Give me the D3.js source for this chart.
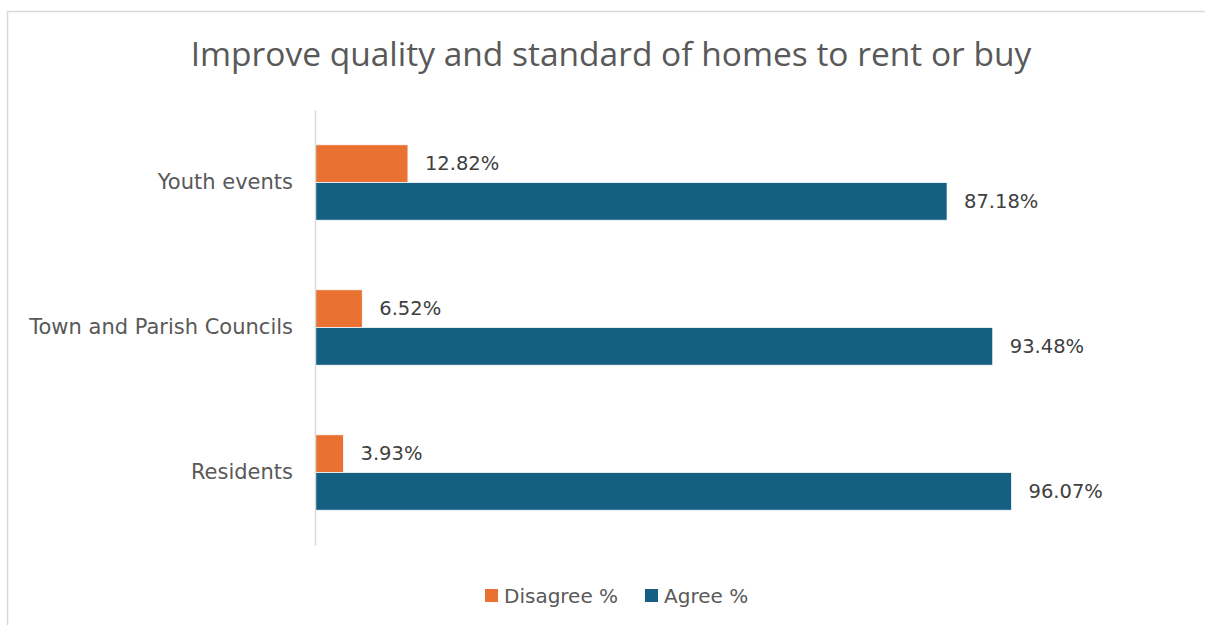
<!DOCTYPE html>
<html>
<head>
<meta charset="utf-8">
<script src="https://cdn.jsdelivr.net/npm/d3@7"></script>
<style>
  body { margin: 0; background: #fff; }
  text { font-family: "DejaVu Sans", sans-serif; }
</style>
</head>
<body>
<script>
var categories = ["Youth events", "Town and Parish Councils", "Residents"];
var seriesNames = ["Disagree %", "Agree %"];
var disagree = [12.82, 6.52, 3.93];
var agree = [87.18, 93.48, 96.07];
var colors = ["#E97132", "#156082"];

var dataset = categories.map(function(c, i) {
  return { cat: c, values: [disagree[i], agree[i]] };
});

var W = 1205, H = 625;
var margin = {top: 110, right: 165, bottom: 80, left: 315},
    w = W - margin.left - margin.right,
    h = H - margin.top - margin.bottom;

var svg = d3.select("body").append("svg")
  .attr("width", W).attr("height", H);

// chart border
svg.append("rect")
  .attr("x", 7.5).attr("y", 11.5)
  .attr("width", W + 10).attr("height", H + 10)
  .attr("fill", "none").attr("stroke", "#d9d9d9").attr("stroke-width", 1.5);

svg.append("text")
  .attr("x", 611).attr("y", 66)
  .attr("text-anchor", "middle")
  .attr("font-size", 33.5)
  .attr("fill", "#595959")
  .style("font-family", "'Open Sans', sans-serif")
  .text("Improve quality and standard of homes to rent or buy");

var g = svg.append("g")
  .attr("transform", "translate(" + margin.left + "," + margin.top + ")");

var xScale = d3.scaleLinear().domain([0, 100]).range([0, 725]);
var yScale = d3.scaleBand().domain(categories).range([0, h]).paddingInner(0.48).paddingOuter(0.24);
var ySub = d3.scaleBand().domain([0, 1]).range([0, yScale.bandwidth()]);

var groups = g.selectAll(".grp")
  .data(dataset)
  .enter().append("g")
  .attr("transform", function(d) { return "translate(0," + yScale(d.cat) + ")"; });

groups.selectAll("rect")
  .data(function(d) { return d.values; })
  .enter().append("rect")
  .attr("x", xScale(0))
  .attr("y", function(d, i) { return ySub(i); })
  .attr("width", function(d) { return xScale(d); })
  .attr("height", ySub.bandwidth())
  .attr("fill", function(d, i) { return colors[i]; })
  .attr("stroke", "#fff").attr("stroke-width", 0.75);

groups.selectAll(".lbl")
  .data(function(d) { return d.values; })
  .enter().append("text")
  .attr("class", "lbl")
  .attr("x", function(d) { return xScale(d) + 17; })
  .attr("y", function(d, i) { return ySub(i) + ySub.bandwidth() / 2; })
  .attr("dy", "0.35em")
  .attr("font-size", 19.5)
  .attr("fill", "#404040")
  .text(function(d) { return d.toFixed(2) + "%"; });

var yAxis = d3.axisLeft(yScale).tickSize(0).tickPadding(22);
var ax = g.append("g").call(yAxis);
ax.select(".domain").attr("stroke", "#d9d9d9").attr("stroke-width", 1.5);
ax.selectAll("text")
  .attr("font-size", 21)
  .attr("fill", "#595959")
  .style("font-family", "'DejaVu Sans', sans-serif");

// legend
var legend = svg.append("g").attr("transform", "translate(485,596)");
var lx = [0, 160];
seriesNames.forEach(function(s, i) {
  var lg = legend.append("g").attr("transform", "translate(" + lx[i] + ",0)");
  lg.append("rect").attr("x", 0).attr("y", -7).attr("width", 13).attr("height", 13).attr("fill", colors[i]);
  lg.append("text").attr("x", 19).attr("y", 0).attr("dy", "0.35em")
    .attr("font-size", 20).attr("fill", "#595959").text(s);
});
</script>
</body>
</html>
